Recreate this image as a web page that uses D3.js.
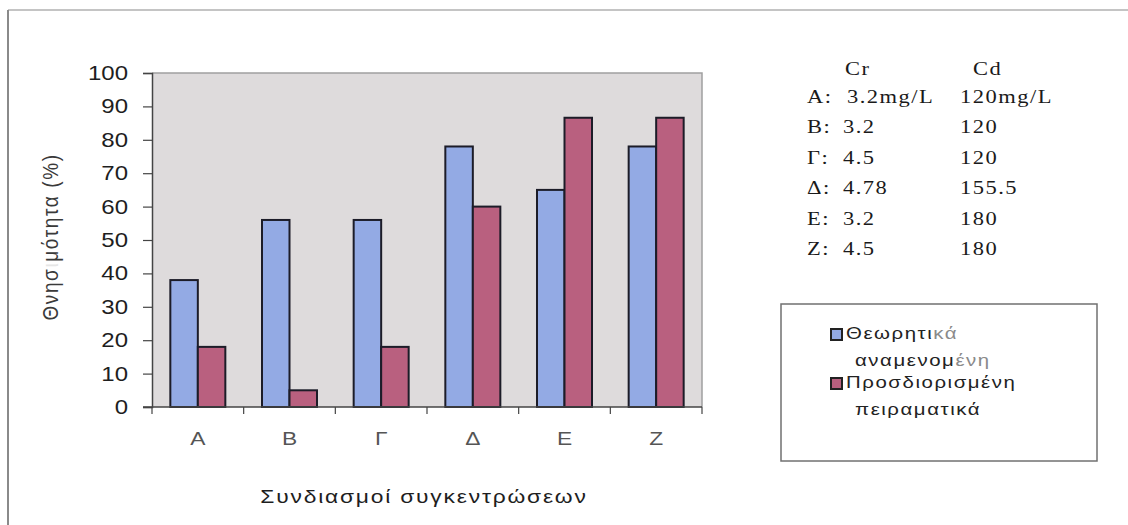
<!DOCTYPE html>
<html>
<head>
<meta charset="utf-8">
<script src="https://cdn.jsdelivr.net/npm/d3@7"></script>
<style>
  html, body { margin: 0; padding: 0; background: #fff; }
  svg { display: block; }
</style>
</head>
<body>
<svg id="chart" width="1128" height="525"></svg>
<script>
// Combinations of concentrations (categories)
const categories = ["A", "B", "Γ", "Δ", "E", "Z"];
// Mortality (%) — theoretically expected vs. experimentally determined
const expected = [38, 56, 56, 78, 65, 78];
const measured = [18, 5, 18, 60, 86.6, 86.6];
const seriesNames = ["Θεωρητικά αναμενόμενη", "Προσδιορισμένη πειραματικά"];
const yTicks = [0, 10, 20, 30, 40, 50, 60, 70, 80, 90, 100];
// Concentration table: Cr and Cd per combination
const tableLabels = ["A", "B", "Γ", "Δ", "E", "Z"];
const crValues = ["3.2mg/L", "3.2", "4.5", "4.78", "3.2", "4.5"];
const cdValues = ["120mg/L", "120", "120", "155.5", "180", "180"];

const svg = d3.select("#chart");
const colors = ["#93aae4", "#b9607f"];
const SANS = "Liberation Sans, Arial, sans-serif";
const SERIF = "Liberation Serif, Times New Roman, serif";

// text drawn with a slightly wide, horizontally stretched face
function wideText(parent, x, y, str, o) {
  return parent.append("text")
    .attr("transform", `translate(${x},${y}) scale(${o.sx || 1.2},1)`)
    .attr("text-anchor", o.anchor || "start")
    .attr("font-family", o.family || SANS)
    .attr("font-size", o.size || 18)
    .attr("letter-spacing", o.ls || 0)
    .attr("fill", o.fill || "#1e1e1e")
    .text(str);
}

// outer frame (top and left edges)
svg.append("line").attr("x1", 8).attr("y1", 10).attr("x2", 1128).attr("y2", 10)
  .attr("stroke", "#c4c4c4").attr("stroke-width", 2);
svg.append("line").attr("x1", 8).attr("y1", 10).attr("x2", 8).attr("y2", 525)
  .attr("stroke", "#8a8a8a").attr("stroke-width", 2);

const plot = { left: 152, top: 73, right: 702, bottom: 407 };
const W = plot.right - plot.left, H = plot.bottom - plot.top;
const g = svg.append("g").attr("transform", `translate(${plot.left},${plot.top})`);

const y = d3.scaleLinear().domain([0, 100]).range([H, 0]);
const x0 = d3.scaleBand().domain(categories).range([0, W]).paddingInner(0.4).paddingOuter(0.2);
const x1 = d3.scaleBand().domain([0, 1]).range([0, x0.bandwidth()]);

// plot area background
g.append("rect").attr("width", W).attr("height", H).attr("fill", "#dedbdc");
g.append("path").attr("d", `M0,0H${W}V${H}`).attr("fill", "none")
  .attr("stroke", "#a0a0a0").attr("stroke-width", 1.5);

// bars
const rows = categories.map((c, i) => ({ cat: c, vals: [expected[i], measured[i]] }));
const grp = g.selectAll("g.cat").data(rows).join("g")
  .attr("class", "cat")
  .attr("transform", d => `translate(${x0(d.cat)},0)`);
grp.selectAll("rect").data(d => d.vals.map((v, k) => ({ v, k }))).join("rect")
  .attr("x", d => x1(d.k))
  .attr("y", d => y(d.v))
  .attr("width", x1.bandwidth())
  .attr("height", d => H - y(d.v))
  .attr("fill", d => colors[d.k])
  .attr("stroke", "#1c1c28")
  .attr("stroke-width", 2);

// y axis (ticks from the library, labels drawn wide)
const yAxis = g.append("g").call(d3.axisLeft(y).tickValues(yTicks).tickSize(9).tickFormat(""));
yAxis.select(".domain").attr("stroke", "#444").attr("stroke-width", 1.5);
yAxis.selectAll(".tick line").attr("stroke", "#444").attr("stroke-width", 1.2);
yTicks.forEach(t => {
  wideText(g, -24, y(t) + 7, String(t), { anchor: "end", size: 20, sx: 1.2, fill: "#1e1e1e" });
});

// x axis: ticks at category boundaries
const xAxisG = g.append("g").attr("transform", `translate(0,${H})`);
xAxisG.append("line").attr("x1", -9).attr("x2", W).attr("stroke", "#444").attr("stroke-width", 1.5);
const bounds = d3.range(categories.length + 1).map(i => i * x0.step());
xAxisG.selectAll("line.tk").data(bounds).join("line").attr("class", "tk")
  .attr("x1", d => d).attr("x2", d => d).attr("y1", 0).attr("y2", 7)
  .attr("stroke", "#444").attr("stroke-width", 1.2);
categories.forEach(c => {
  wideText(xAxisG, x0(c) + x0.bandwidth() / 2, 38, c, { anchor: "middle", size: 19, sx: 1.2, fill: "#555" });
});

// axis titles
wideText(svg, plot.left + W / 2 - 3, 503, "Συνδιασμοί συγκεντρώσεων",
  { anchor: "middle", size: 19, sx: 1.2, ls: 1.5, fill: "#1e1e1e" });

const yt = svg.append("text")
  .attr("transform", "translate(58,237) rotate(-90) scale(1,1.15)")
  .attr("text-anchor", "middle")
  .attr("font-family", SANS)
  .attr("font-size", 19).attr("letter-spacing", 1.6).attr("fill", "#3a3a3a");
yt.append("tspan").text("Θνησ");
yt.append("tspan").attr("fill", "#e6e6e6").text("ι");
yt.append("tspan").text("μότητα  (%)");

// concentration table
const tbl = svg.append("g");
const tOpt = { family: SERIF, size: 18, sx: 1.25, ls: 1.2, fill: "#1a1a1a" };
wideText(tbl, 845, 75, "Cr", tOpt);
wideText(tbl, 973, 75, "Cd", tOpt);
tableLabels.forEach((lab, i) => {
  const yy = 103 + i * 30.4;
  wideText(tbl, 807, yy, lab + ":", tOpt);
  wideText(tbl, i === 0 ? 847 : 843, yy, crValues[i], tOpt);
  wideText(tbl, 960, yy, cdValues[i], tOpt);
});

// legend
svg.append("rect").attr("x", 781).attr("y", 304).attr("width", 316).attr("height", 157)
  .attr("fill", "#fff").attr("stroke", "#707070").attr("stroke-width", 1.5);
const legendRows = [
  { y: 329, parts: [["Θεωρητι", "#222"], ["κά", "#8a8a8a"]], parts2: [["αναμενομ", "#222"], ["ένη", "#8a8a8a"]] },
  { y: 378, parts: [["Προσδιορισμένη", "#222"]], parts2: [["πειραματικά", "#222"]] }
];
legendRows.forEach((r, k) => {
  svg.append("rect").attr("x", 831).attr("y", r.y).attr("width", 11).attr("height", 11)
    .attr("fill", colors[k]).attr("stroke", "#222").attr("stroke-width", 2);
  const t1 = wideText(svg, 846, r.y + 10, "", { size: 17, sx: 1.2, ls: 1.3 });
  r.parts.forEach(p => t1.append("tspan").attr("fill", p[1]).text(p[0]));
  const t2 = wideText(svg, 855, r.y + 37, "", { size: 17, sx: 1.2, ls: 1.3 });
  r.parts2.forEach(p => t2.append("tspan").attr("fill", p[1]).text(p[0]));
});
</script>
</body>
</html>
